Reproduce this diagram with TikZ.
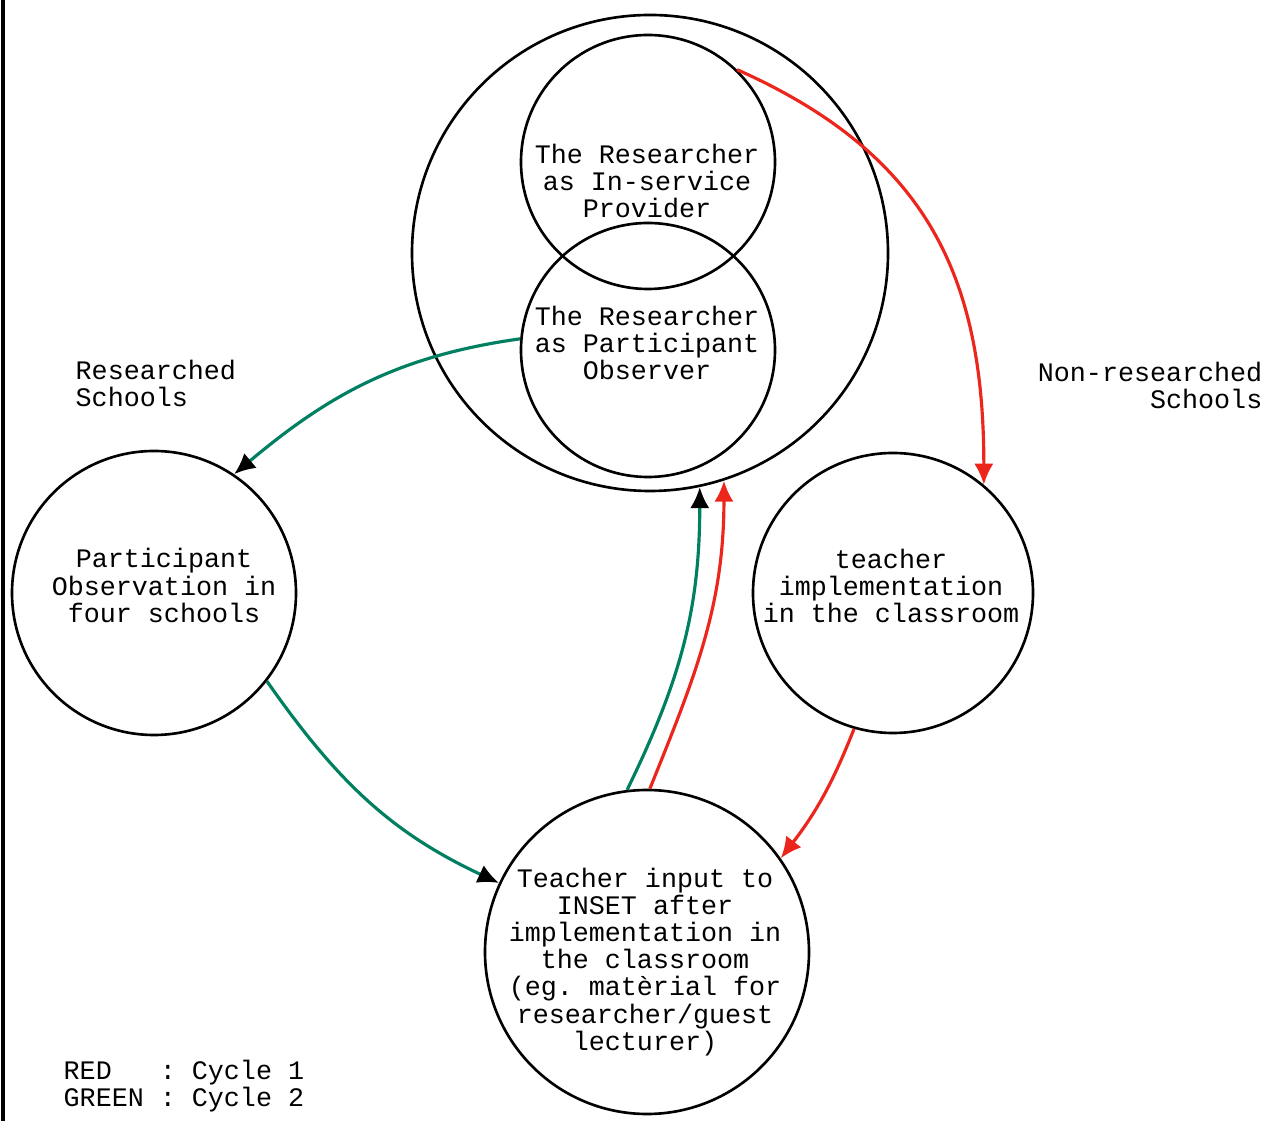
\documentclass[tikz,border=0pt]{standalone}
\usepackage{fontspec}
\setmonofont{Liberation Mono}
\usetikzlibrary{arrows.meta}
\definecolor{cyclered}{RGB}{236,38,28}
\definecolor{cyclegreen}{RGB}{0,128,96}
\begin{document}
\begin{tikzpicture}[
    ring/.style={draw,circle,line width=0.75pt,inner sep=0pt},
    txt/.style={font=\ttfamily\fontsize{7.6}{7.7}\selectfont,align=center,inner sep=0pt},
    redarrow/.style={draw=cyclered,line width=0.9pt,-{Latex[length=6pt,width=5.5pt,color=cyclered]}},
    greenarrow/.style={draw=cyclegreen,line width=0.9pt,-{Latex[length=6pt,width=5.5pt,color=black]}}]
	  \useasboundingbox (0,0) rectangle (12.67,-11.21);
	  \coordinate (edgetop) at (0.03,0);
	  \coordinate (edgebottom) at (0.03,-11.21);
	  \draw[line width=1pt] (edgetop) -- (edgebottom);

	  \node[ring,minimum size=4.76cm] (researcher) at (6.50,-2.53) {};
	  \node[ring,minimum size=2.54cm] (provider) at (6.48,-1.62) {};
	  \node[ring,minimum size=2.54cm] (observer) at (6.48,-3.50) {};
	  \node[ring,minimum size=2.84cm] (fourschools) at (1.54,-5.93) {};
	  \node[ring,minimum size=2.80cm] (classroom) at (8.93,-5.93) {};
	  \node[ring,minimum size=3.24cm] (inset) at (6.47,-9.52) {};

	  \node[txt] (providertext) at (6.47,-1.81) {The Researcher\\as In-service\\Provider};
	  \node[txt] (observertext) at (6.47,-3.43) {The Researcher\\as Participant\\Observer};
	  \node[txt] (fourschoolstext) at (1.64,-5.855) {Participant\\Observation in\\four schools};
	  \node[txt] (classroomtext) at (8.91,-5.86) {teacher\\implementation\\in the classroom};
	  \node[txt] (insettext) at (6.45,-9.62) {Teacher input to\\INSET after\\implementation in\\the classroom\\(eg. matèrial for\\researcher/guest\\lecturer)};

	  \node[txt,align=left,anchor=west] (researched) at (0.75,-3.835) {Researched\\Schools};
	  \node[txt,align=right,anchor=east] (nonresearched) at (12.63,-3.855) {Non-researched\\Schools};
	  \node[txt,align=left,anchor=west] (legend) at (0.63,-10.865) {RED\ \ \ : Cycle 1\\GREEN : Cycle 2};

	  \draw[greenarrow] (observer.175) to[out=188,in=40] (fourschools.56);
	  \draw[greenarrow] (fourschools.-38) to[out=-55,in=155] (inset.155);
	  \draw[greenarrow] (inset.97) to[out=64,in=-90] (researcher.-78);
	  \draw[redarrow] (inset.89) to[out=68,in=-90] (researcher.-72);
	  \draw[redarrow] (provider.46) to[out=-24,in=90,looseness=1.1] (classroom.50);
	  \draw[redarrow] (classroom.-106) to[bend left=8] (inset.35);
	\end{tikzpicture}
\end{document}
